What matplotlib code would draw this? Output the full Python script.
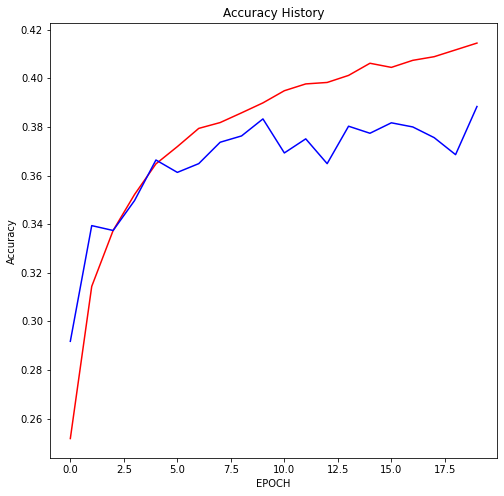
import matplotlib
matplotlib.use("Agg")
import matplotlib.pyplot as plt

epochs = list(range(20))
train_acc = [0.2518, 0.3144, 0.3374, 0.3522, 0.3648, 0.3719, 0.3794, 0.3818,
             0.3858, 0.3899, 0.3949, 0.3977, 0.3983, 0.4012, 0.4062, 0.4045,
             0.4074, 0.4089, 0.4117, 0.4145]
val_acc = [0.2918, 0.3394, 0.3374, 0.3497, 0.3664, 0.3613, 0.3649, 0.3737,
           0.3763, 0.3833, 0.3693, 0.3751, 0.3649, 0.3803, 0.3774, 0.3817,
           0.3800, 0.3756, 0.3686, 0.3884]

fig = plt.figure(figsize=(7, 496 / 72), dpi=72)
ax = fig.add_axes([0.0992, 0.076, 0.8875, 0.877])
ax.plot(epochs, train_acc, color="red")
ax.plot(epochs, val_acc, color="blue")
ax.set_title("Accuracy History")
ax.set_xlabel("EPOCH")
ax.set_ylabel("Accuracy")

fig.savefig("out.png", dpi=72)
plt.close(fig)
